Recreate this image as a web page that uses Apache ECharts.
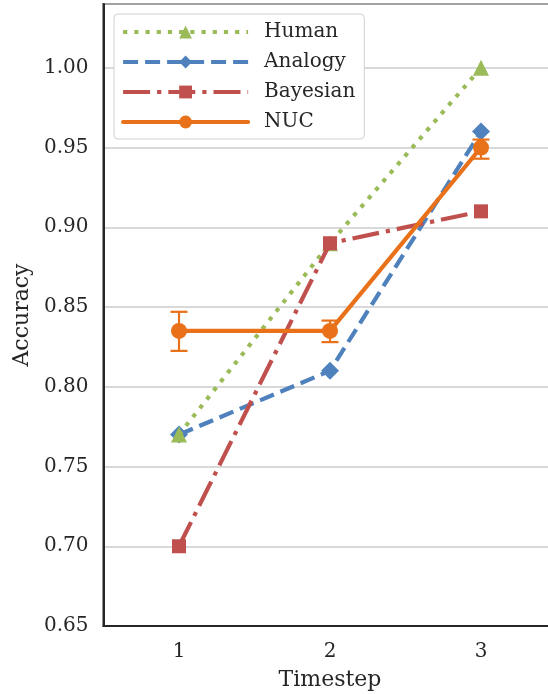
<!DOCTYPE html>
<html><head><meta charset="utf-8">
<script src="https://cdn.jsdelivr.net/npm/echarts@6/dist/echarts.min.js"></script>
<style>html,body{margin:0;padding:0;background:#fff}#c{width:548px;height:694px}</style>
</head><body><div id="c"></div>
<script>
const timesteps = ['1', '2', '3'];
const human = [0.77, 0.89, 1.00];
const analogy = [0.77, 0.81, 0.96];
const bayesian = [0.70, 0.89, 0.91];
const nuc = [0.835, 0.835, 0.95];
const nucLow = [0.8225, 0.828, 0.943];
const nucHigh = [0.847, 0.8415, 0.955];
const yTicks = [0.65, 0.70, 0.75, 0.80, 0.85, 0.90, 0.95, 1.00];

const FONT = 'DejaVu Serif';
const TXT = '#262626';
const C_GREEN = '#9bbb59', C_BLUE = '#4f81bd', C_RED = '#c0504d', C_ORANGE = '#e8711a';
const LW = 4.2;
const dotted = [4.2, 7], dashed = [15, 7], dashDot = [27, 7, 4.2, 7];

const chart = echarts.init(document.getElementById('c'), null, {renderer: 'canvas'});
const errData = timesteps.map((t, i) => [i, nucLow[i], nucHigh[i]]);

chart.setOption({
  animation: false,
  backgroundColor: '#ffffff',
  grid: {left: 103.5, right: -8.5, top: 4, bottom: 68, outerBoundsMode: 'none', containLabel: false,
    show: true, borderColor: '#262626', borderWidth: 2, backgroundColor: 'transparent'},
  legend: {
    orient: 'vertical', left: 114, top: 14,
    padding: [8, 9, 7, 7],
    itemWidth: 125, itemHeight: 16, itemGap: 10,
    backgroundColor: '#ffffff', borderColor: '#d0d0d0', borderWidth: 1, borderRadius: 4,
    textStyle: {fontFamily: FONT, fontSize: 20, color: TXT, padding: [0, 0, 0, 11]},
    data: [
      {name: 'Human', lineStyle: {color: C_GREEN, width: LW, type: dotted, cap: 'butt'}},
      {name: 'Analogy', lineStyle: {color: C_BLUE, width: LW, type: dashed, cap: 'butt'}},
      {name: 'Bayesian', lineStyle: {color: C_RED, width: LW, type: dashDot, cap: 'butt'}},
      {name: 'NUC', lineStyle: {color: C_ORANGE, width: LW, type: 'solid', cap: 'round'}}
    ]
  },
  xAxis: {
    type: 'category', data: timesteps, boundaryGap: true,
    name: 'Timestep', nameLocation: 'middle', nameGap: 43,
    nameTextStyle: {fontFamily: FONT, fontSize: 22, color: TXT},
    axisLine: {show: true, lineStyle: {color: '#262626', width: 2}},
    axisTick: {show: false},
    axisLabel: {fontFamily: FONT, fontSize: 20, color: TXT, margin: 16},
    splitLine: {show: false}
  },
  yAxis: {
    type: 'value', min: 0.65, max: 1.04, interval: 0.05,
    name: 'Accuracy', nameLocation: 'middle', nameGap: 69,
    nameTextStyle: {fontFamily: FONT, fontSize: 22, color: TXT},
    axisLine: {show: true, lineStyle: {color: '#262626', width: 2}},
    axisTick: {show: false},
    axisLabel: {fontFamily: FONT, fontSize: 20, color: TXT, margin: 15, showMaxLabel: false,
      formatter: v => yTicks.some(t => Math.abs(t - v) < 1e-6) ? v.toFixed(2) : ''},
    splitLine: {show: true, lineStyle: {color: '#cccccc', width: 1.5}}
  },
  series: [
    {name: 'Analogy', type: 'line', data: analogy, z: 3,
      symbol: 'diamond', symbolSize: 18,
      lineStyle: {color: C_BLUE, width: LW, type: dashed, cap: 'butt'},
      itemStyle: {color: C_BLUE}},
    {name: 'Human', type: 'line', data: human, z: 4,
      symbol: 'triangle', symbolSize: 16,
      lineStyle: {color: C_GREEN, width: LW, type: dotted, cap: 'butt'},
      itemStyle: {color: C_GREEN}},
    {name: 'Bayesian', type: 'line', data: bayesian, z: 5,
      symbol: 'rect', symbolSize: 14,
      lineStyle: {color: C_RED, width: LW, type: dashDot, cap: 'butt'},
      itemStyle: {color: C_RED}},
    {name: 'NUCerr', type: 'custom', data: errData, z: 6,
      renderItem: (params, api) => {
        const x = api.value(0);
        const lo = api.coord([x, api.value(1)]);
        const hi = api.coord([x, api.value(2)]);
        const w = 8.5;
        const st = {stroke: C_ORANGE, lineWidth: 2.2};
        return {type: 'group', children: [
          {type: 'line', shape: {x1: lo[0], y1: lo[1], x2: hi[0], y2: hi[1]}, style: st},
          {type: 'line', shape: {x1: lo[0] - w, y1: lo[1], x2: lo[0] + w, y2: lo[1]}, style: st},
          {type: 'line', shape: {x1: hi[0] - w, y1: hi[1], x2: hi[0] + w, y2: hi[1]}, style: st}
        ]};
      }},
    {name: 'NUC', type: 'line', data: nuc, z: 7,
      symbol: 'circle', symbolSize: 16,
      lineStyle: {color: C_ORANGE, width: LW, type: 'solid', cap: 'round'},
      itemStyle: {color: C_ORANGE}}
  ]
});
</script></body></html>
